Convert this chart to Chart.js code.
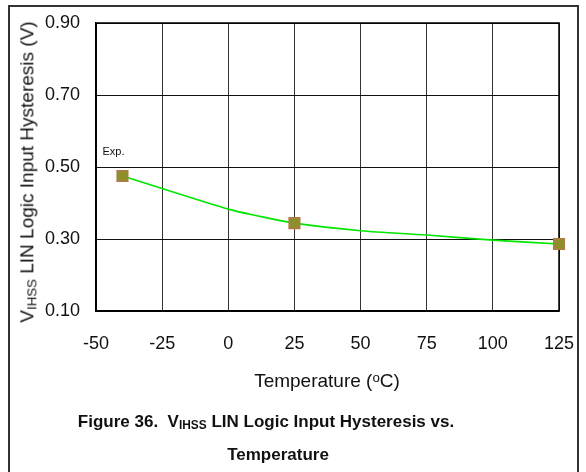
<!DOCTYPE html>
<html>
<head>
<meta charset="utf-8">
<script src="https://cdn.jsdelivr.net/npm/chart.js@4.4.1/dist/chart.umd.min.js"></script>
<style>
  html, body { margin: 0; padding: 0; background: #fff; }
  body { width: 586px; height: 472px; position: relative; overflow: hidden; font-family: "Liberation Sans", Arial, sans-serif; color: #111; }
  #frame { position: absolute; left: 8px; top: 5px; width: 571px; height: 480px; border: 2px solid #333; box-sizing: border-box; }
  #wrap { position: absolute; left: 0; top: 0; width: 586px; height: 472px; }
  .t { position: absolute; white-space: nowrap; }
  #ytitle { left: 28px; top: 172px; font-size: 19px; transform: translate(-50%, -50%) rotate(-90deg); }
  #xtitle { left: 327px; top: 381px; font-size: 19px; transform: translate(-50%, -50%); }
  #cap1 { left: 266px; top: 422px; font-size: 17px; font-weight: bold; transform: translate(-50%, -50%); }
  #cap2 { left: 278px; top: 455px; font-size: 17px; font-weight: bold; transform: translate(-50%, -50%); }
  sub { font-size: 0.7em; vertical-align: -0.25em; }
  sup { font-size: 0.7em; vertical-align: 0.45em; }
</style>
</head>
<body>
<div id="frame"></div>
<div id="wrap"><canvas id="c" width="586" height="472"></canvas></div>
<div class="t" id="ytitle">V<sub>IHSS</sub> LIN Logic Input Hysteresis (V)</div>
<div class="t" id="xtitle">Temperature (<sup>o</sup>C)</div>
<div class="t" id="cap1">Figure 36.&nbsp; V<sub>IHSS</sub> LIN Logic Input Hysteresis vs.</div>
<div class="t" id="cap2">Temperature</div>
<script>
// Measured points (markers)
const markerTemps = [-40, 25, 125];
const markerValues = [0.475, 0.344, 0.286];
// Fitted curve (green line)
const curveTemps = [-40, -25, 0, 10, 25, 50, 75, 100, 125];
const curveValues = [0.475, 0.44, 0.383, 0.366, 0.344, 0.323, 0.311, 0.297, 0.286];
// Axis ticks
const xTicks = [-50, -25, 0, 25, 50, 75, 100, 125];
const yTicks = [0.10, 0.30, 0.50, 0.70, 0.90];
const markerLabel = "Exp.";

const expLabel = {
  id: 'expLabel',
  afterDatasetsDraw(chart) {
    const xs = chart.scales.x, ys = chart.scales.y;
    const px = xs.getPixelForValue(markerTemps[0]);
    const py = ys.getPixelForValue(markerValues[0]);
    const ctx = chart.ctx;
    ctx.save();
    ctx.font = '11px "Liberation Sans", Arial, sans-serif';
    ctx.fillStyle = '#111';
    ctx.textAlign = 'right';
    ctx.textBaseline = 'middle';
    ctx.fillText(markerLabel, px + 2, py - 24);
    ctx.restore();
  }
};

new Chart(document.getElementById('c'), {
  type: 'scatter',
  data: {
    datasets: [
      {
        data: markerTemps.map((t, i) => ({ x: t, y: markerValues[i] })),
        pointStyle: 'rect',
        pointRadius: 7.5,
        pointHoverRadius: 7.5,
        pointBackgroundColor: '#8E8E2C',
        pointBorderColor: '#B07A48',
        pointBorderWidth: 1.5,
        showLine: false,
        clip: false,
        order: 0
      },
      {
        data: curveTemps.map((t, i) => ({ x: t, y: curveValues[i] })),
        showLine: true,
        borderColor: '#00E600',
        borderWidth: 1.6,
        pointRadius: 0,
        tension: 0.3,
        fill: false,
        order: 1
      }
    ]
  },
  options: {
    responsive: false,
    animation: false,
    devicePixelRatio: 1,
    layout: { padding: { left: 0, top: 23, right: 27, bottom: 0 } },
    plugins: { legend: { display: false }, tooltip: { enabled: false } },
    scales: {
      x: {
        type: 'linear',
        min: xTicks[0], max: xTicks[xTicks.length - 1],
        afterBuildTicks: s => { s.ticks = xTicks.map(v => ({ value: v })); },
        afterFit: s => { s.height = 161; s.paddingLeft = 0; s.paddingRight = 0; },
        ticks: { color: '#111', padding: 22, font: { size: 18, family: '"Liberation Sans", Arial, sans-serif' }, maxRotation: 0, autoSkip: false },
        grid: { color: '#333', lineWidth: 1, drawTicks: false },
        border: { color: '#000', width: 1.5 }
      },
      y: {
        type: 'linear',
        min: yTicks[0], max: yTicks[yTicks.length - 1],
        afterBuildTicks: s => { s.ticks = yTicks.map(v => ({ value: v })); },
        afterFit: s => { s.width = 96; s.paddingTop = 0; s.paddingBottom = 0; },
        ticks: { color: '#111', padding: 16, font: { size: 18, family: '"Liberation Sans", Arial, sans-serif' }, callback: v => Number(v).toFixed(2) },
        grid: { color: '#111', lineWidth: 1, drawTicks: false },
        border: { color: '#000', width: 1.5 }
      }
    }
  },
  plugins: [expLabel, {
    id: 'frameTop',
    beforeDatasetsDraw(chart) {
      const a = chart.chartArea, ctx = chart.ctx;
      ctx.save();
      ctx.strokeStyle = '#000';
      ctx.lineWidth = 1.5;
      ctx.strokeRect(a.left, a.top, a.right - a.left, a.bottom - a.top);
      ctx.restore();
    }
  }]
});
</script>
</body>
</html>
